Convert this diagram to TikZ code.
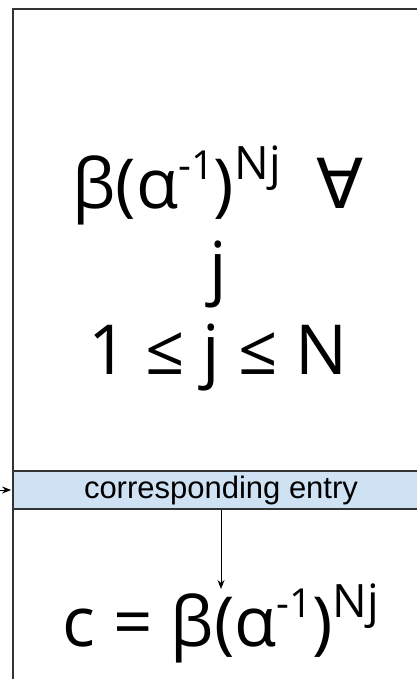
\documentclass[tikz,border=0pt]{standalone}
\usepackage{fontspec}
\setmainfont{Open Sans}
\newfontfamily\labelfont{Liberation Sans}
\newfontfamily\symbfont{DejaVu Sans}
\usetikzlibrary{arrows.meta,positioning}

\definecolor{barblue}{HTML}{CFE2F3}
\newcommand{\supx}[2][40]{\raisebox{.42em}{\fontsize{#1}{#1}\selectfont #2}}

\begin{document}
\begin{tikzpicture}[>={Stealth[length=9pt,width=7pt]},shorten >=1pt,x=1pt,y=-1pt,
	every node/.style={inner sep=0pt},
	table/.style={draw=black!80,line width=2.4pt},
	entrybar/.style={draw=black!80,line width=1.8pt,fill=barblue,minimum width=416pt,minimum height=38pt,
		font=\labelfont\fontsize{31}{31}\selectfont},
	formula/.style={align=center,font=\fontsize{69}{83}\selectfont}]

\clip (0,0) rectangle (417,679);

% lookup table
\draw[table] (13,9) rectangle (440,700);

\node[entrybar]   (entry)  at (221,490)      {corresponding entry};
\node[formula]    (powers) at (218,268)      {β(α\supx[40]{-1})\supx[46]{Nj}\ \ {\symbfont ∀}\\ j\\ 1 ≤ j ≤ N};
\node[formula,anchor=base]  (res) at (221,646)   {c = β(α\supx[40]{-1})\supx[46]{Nj}};

\coordinate (feed) at (0,490);
\coordinate (hit)  at (221,590);

	\path[->,line width=1pt] (feed)  edge   (entry)
						(entry) edge   (hit);

\end{tikzpicture}
\end{document}
